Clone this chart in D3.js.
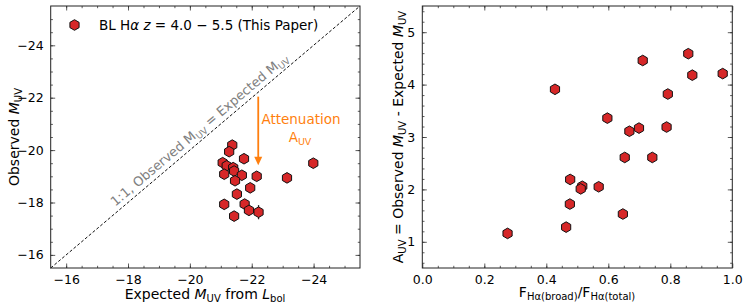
<!DOCTYPE html>
<html>
<head>
<meta charset="utf-8">
<script src="https://cdn.jsdelivr.net/npm/d3@7"></script>
<style>
  body { margin: 0; background: #fff; }
  svg text { font-family: "DejaVu Sans", sans-serif; }
</style>
</head>
<body>
<div id="chart"></div>
<script>
// Left panel: expected vs observed M_UV
const expectedMuv = [-21.37, -21.27, -21.75, -21.06, -21.19, -21.40, -21.43, -21.11, -21.68, -22.16,
                     -21.46, -21.95, -21.52, -21.11, -21.77, -21.91, -22.22, -21.43, -23.14, -23.99];
const observedMuv = [-20.19, -19.94, -19.67, -19.52, -19.40, -19.33, -19.20, -19.08, -19.04, -19.00,
                     -18.83, -18.56, -18.32, -17.93, -17.94, -17.70, -17.63, -17.48, -18.94, -19.50];
const observedErr = [0, 0, 0, 0, 0, 0.08, 0, 0.1, 0, 0,
                     0, 0, 0, 0.18, 0.15, 0, 0.27, 0, 0, 0];

// Right panel: broad fraction vs attenuation
const broadFraction = [0.428, 0.597, 0.711, 0.792, 0.858, 0.871, 0.969, 0.668, 0.699, 0.788,
                       0.653, 0.742, 0.477, 0.516, 0.511, 0.569, 0.476, 0.647, 0.464, 0.275];
const attenuation = [3.91, 3.36, 4.46, 3.82, 4.59, 4.18, 4.21, 3.11, 3.17, 3.19,
                     2.61, 2.61, 2.19, 2.06, 2.01, 2.05, 1.72, 1.53, 1.28, 1.16];

const leftTicks = [-16, -18, -20, -22, -24];
const rightXTicks = [0, 0.2, 0.4, 0.6, 0.8, 1.0];
const rightYTicks = [1, 2, 3, 4, 5];

const W = 747, H = 308;
const red = "#d62728", orange = "#ff7f0e";

const svg = d3.select("#chart").append("svg")
    .attr("width", W)
    .attr("height", H);

function hexPath(r) {
    const pts = d3.range(6).map(i => {
        const a = Math.PI / 3 * i - Math.PI / 2;
        return [r * Math.cos(a), r * Math.sin(a)];
    });
    return "M" + pts.join("L") + "Z";
}
const hex = hexPath(5.3);

// draw frame + inward ticks on all four sides
function drawFrame(g, x, y, xMajor, xMinor, yMajor, yMinor, xFmt, yFmt) {
    const [x0, x1] = x.range();
    const [y0, y1] = y.range();
    const w = x1 - x0, h = y0 - y1;

    const axes = [
        { ax: d3.axisBottom(x), tr: `translate(0,${y0})`, major: xMajor, minor: xMinor, fmt: xFmt },
        { ax: d3.axisTop(x), tr: `translate(0,${y1})`, major: xMajor, minor: xMinor, fmt: null },
        { ax: d3.axisLeft(y), tr: `translate(${x0},0)`, major: yMajor, minor: yMinor, fmt: yFmt },
        { ax: d3.axisRight(y), tr: `translate(${x1},0)`, major: yMajor, minor: yMinor, fmt: null }
    ];
    axes.forEach(a => {
        // minor
        g.append("g").attr("transform", a.tr)
            .call(a.ax.tickValues(a.minor).tickSize(-2.2).tickFormat(""))
            .call(s => s.select(".domain").remove())
            .selectAll("line").attr("stroke", "#333").attr("stroke-width", 0.8);
        // major
        const mg = g.append("g").attr("transform", a.tr)
            .call(a.ax.tickValues(a.major).tickSize(-4.5).tickPadding(7)
                .tickFormat(a.fmt ? a.fmt : ""));
        mg.select(".domain").remove();
        mg.selectAll("line").attr("stroke", "#333").attr("stroke-width", 0.8);
        mg.selectAll("text").attr("font-size", "12.5px").attr("fill", "#000")
            .style("font-family", "DejaVu Sans, sans-serif");
    });

    g.append("rect")
        .attr("x", x0).attr("y", y1)
        .attr("width", w).attr("height", h)
        .attr("fill", "none")
        .attr("stroke", "#222")
        .attr("stroke-width", 1);
}

const minus = v => (v < 0 ? "\u2212" + Math.abs(v) : String(v));

// ---------- Left panel ----------
const xL = d3.scaleLinear().domain([-15.5, -25.5]).range([50.7, 360]);
const yL = d3.scaleLinear().domain([-15.5, -25.5]).range([268, 6]);
const gL = svg.append("g");

// 1:1 line
gL.append("line")
    .attr("x1", xL(-15.5)).attr("y1", yL(-15.5))
    .attr("x2", xL(-25.5)).attr("y2", yL(-25.5))
    .attr("stroke", "#111")
    .attr("stroke-width", 1)
    .attr("stroke-dasharray", "3,2");

const ang = Math.atan2(yL(-25.5) - yL(-15.5), xL(-25.5) - xL(-15.5)) * 180 / Math.PI;
const oneText = gL.append("text")
    .attr("transform", `translate(${xL(-20.5)},${yL(-20.5)}) rotate(${ang})`)
    .attr("y", -5)
    .attr("text-anchor", "middle")
    .attr("font-size", "13px")
    .attr("fill", "#808080");
oneText.append("tspan").text("1:1, Observed M");
oneText.append("tspan").attr("font-size", "9px").attr("dy", 3).text("UV");
oneText.append("tspan").attr("dy", -3).text(" = Expected M");
oneText.append("tspan").attr("font-size", "9px").attr("dy", 3).text("UV");

// attenuation arrow
gL.append("line")
    .attr("x1", xL(-22.21)).attr("x2", xL(-22.21))
    .attr("y1", yL(-22.04)).attr("y2", yL(-19.65))
    .attr("stroke", orange)
    .attr("stroke-width", 1.8);
gL.append("path")
    .attr("d", `M${xL(-22.21) - 4},${yL(-19.75)} L${xL(-22.21) + 4},${yL(-19.75)} L${xL(-22.21)},${yL(-19.42)} Z`)
    .attr("fill", orange);

gL.append("text")
    .attr("x", 301).attr("y", 124)
    .attr("text-anchor", "middle")
    .attr("font-size", "13.5px")
    .attr("fill", orange)
    .text("Attenuation");
const auvText = gL.append("text")
    .attr("x", 300).attr("y", 142)
    .attr("text-anchor", "middle")
    .attr("font-size", "13.5px")
    .attr("fill", orange);
auvText.append("tspan").text("A");
auvText.append("tspan").attr("font-size", "9.5px").attr("dy", 3).text("UV");

drawFrame(gL, xL, yL, leftTicks, d3.range(-16, -25.01, -0.5), leftTicks, d3.range(-16, -25.01, -0.5), minus, minus);

// error bars
gL.selectAll(".err")
    .data(expectedMuv.map((d, i) => ({ x: d, y: observedMuv[i], e: observedErr[i] })).filter(d => d.e > 0))
    .join("line")
    .attr("x1", d => xL(d.x)).attr("x2", d => xL(d.x))
    .attr("y1", d => yL(d.y - d.e)).attr("y2", d => yL(d.y + d.e))
    .attr("stroke", "#222")
    .attr("stroke-width", 1.3);

gL.selectAll(".pt")
    .data(expectedMuv.map((d, i) => ({ x: d, y: observedMuv[i] })))
    .join("path")
    .attr("d", hex)
    .attr("transform", d => `translate(${xL(d.x)},${yL(d.y)})`)
    .attr("fill", red)
    .attr("stroke", "#111")
    .attr("stroke-width", 1);

// legend
gL.append("path")
    .attr("d", hex)
    .attr("transform", "translate(74.5,25)")
    .attr("fill", red)
    .attr("stroke", "#111")
    .attr("stroke-width", 1);
const leg = gL.append("text")
    .attr("x", 99).attr("y", 29.5)
    .attr("font-size", "13.5px")
    .attr("fill", "#000");
leg.append("tspan").text("BL H");
leg.append("tspan").attr("font-style", "italic").text("\u03b1 z");
leg.append("tspan").text(" = 4.0 \u2212 5.5 (This Paper)");

// axis labels
const xLab = gL.append("text")
    .attr("x", 205).attr("y", 299)
    .attr("text-anchor", "middle")
    .attr("font-size", "14px");
xLab.append("tspan").text("Expected ");
xLab.append("tspan").attr("font-style", "italic").text("M");
xLab.append("tspan").attr("font-size", "10px").attr("dy", 3).text("UV");
xLab.append("tspan").attr("dy", -3).text(" from ");
xLab.append("tspan").attr("font-style", "italic").text("L");
xLab.append("tspan").attr("font-size", "10px").attr("dy", 3).text("bol");

const yLab = gL.append("text")
    .attr("transform", "translate(19,137) rotate(-90)")
    .attr("text-anchor", "middle")
    .attr("font-size", "14px");
yLab.append("tspan").text("Observed ");
yLab.append("tspan").attr("font-style", "italic").text("M");
yLab.append("tspan").attr("font-size", "10px").attr("dy", 3).text("UV");

// ---------- Right panel ----------
const xR = d3.scaleLinear().domain([0, 1]).range([422.3, 732.3]);
const yR = d3.scaleLinear().domain([0.5, 5.5]).range([268, 6]);
const gR = svg.append("g");

drawFrame(gR, xR, yR, rightXTicks, d3.range(0.05, 1, 0.05), rightYTicks, d3.range(0.6, 5.5, 0.2),
    d3.format(".1f"), d3.format("d"));

gR.selectAll(".pt")
    .data(broadFraction.map((d, i) => ({ x: d, y: attenuation[i] })))
    .join("path")
    .attr("d", hex)
    .attr("transform", d => `translate(${xR(d.x)},${yR(d.y)})`)
    .attr("fill", red)
    .attr("stroke", "#111")
    .attr("stroke-width", 1);

const xRLab = gR.append("text")
    .attr("x", 577).attr("y", 297)
    .attr("text-anchor", "middle")
    .attr("font-size", "14px");
xRLab.append("tspan").text("F");
xRLab.append("tspan").attr("font-size", "10px").attr("dy", 3).text("H\u03b1(broad)");
xRLab.append("tspan").attr("dy", -3).text("/F");
xRLab.append("tspan").attr("font-size", "10px").attr("dy", 3).text("H\u03b1(total)");

const yRLab = gR.append("text")
    .attr("transform", "translate(403,137) rotate(-90)")
    .attr("text-anchor", "middle")
    .attr("font-size", "14px");
yRLab.append("tspan").text("A");
yRLab.append("tspan").attr("font-size", "10px").attr("dy", 3).text("UV");
yRLab.append("tspan").attr("dy", -3).text(" = Observed ");
yRLab.append("tspan").attr("font-style", "italic").text("M");
yRLab.append("tspan").attr("font-size", "10px").attr("dy", 3).text("UV");
yRLab.append("tspan").attr("dy", -3).text(" - Expected ");
yRLab.append("tspan").attr("font-style", "italic").text("M");
yRLab.append("tspan").attr("font-size", "10px").attr("dy", 3).text("UV");
</script>
</body>
</html>
